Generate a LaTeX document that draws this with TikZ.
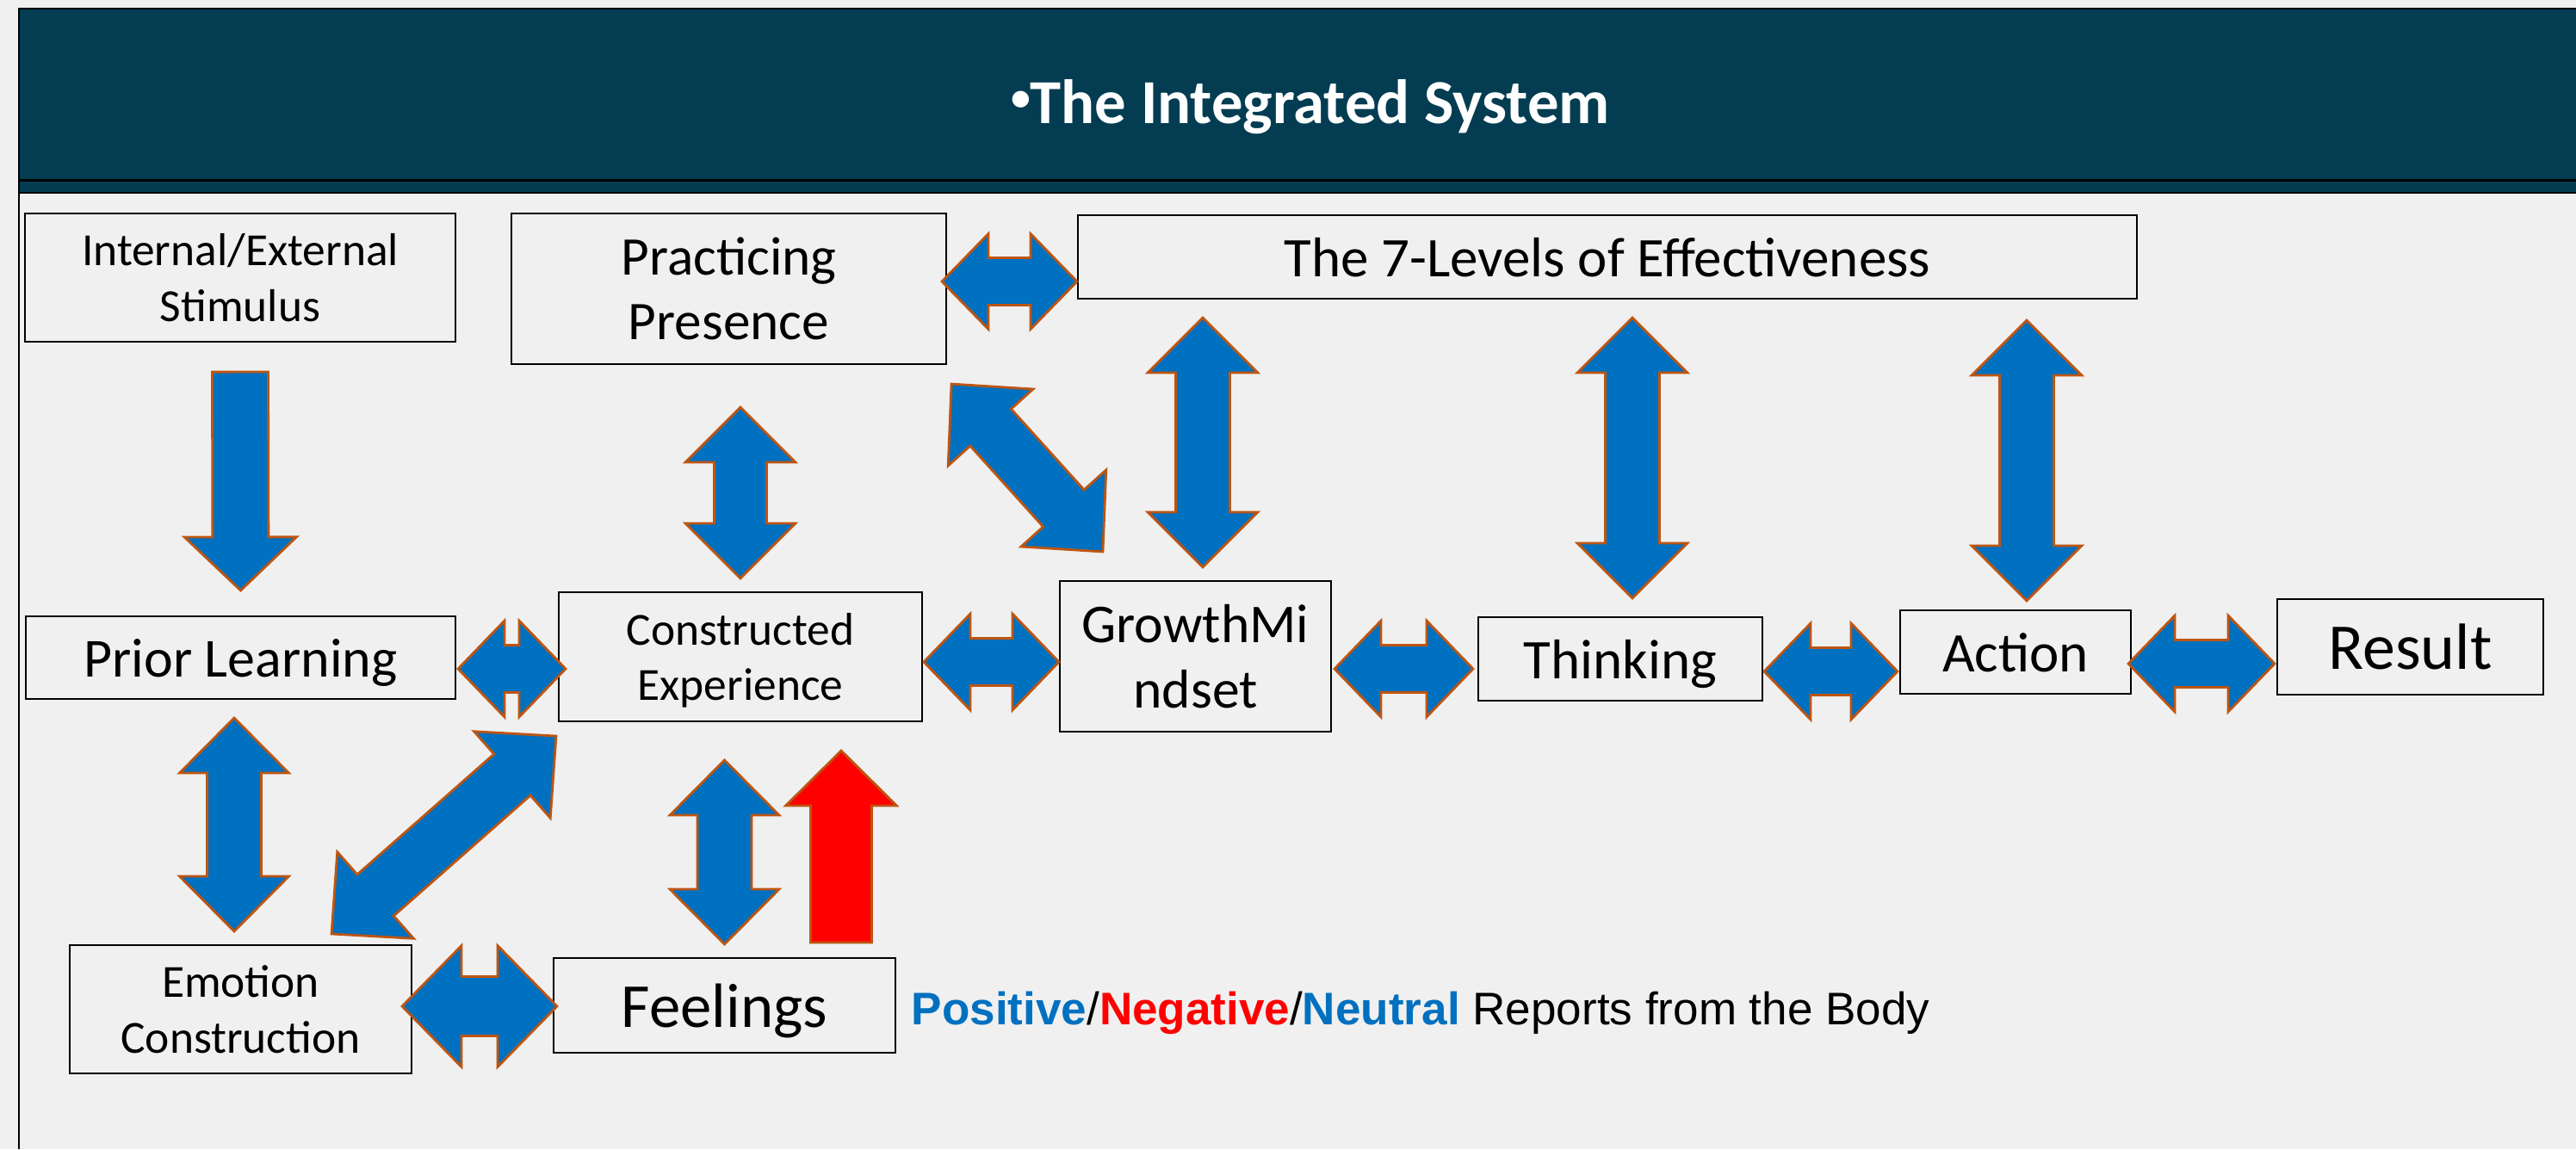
\documentclass[tikz,border=0pt]{standalone}
\usepackage{fontspec}
\setmainfont{Carlito}
\newfontfamily\legendfont{Liberation Sans}
\usetikzlibrary{calc}

\definecolor{bg}{RGB}{240,240,240}
\definecolor{banner}{RGB}{4,61,82}
\definecolor{arrblue}{RGB}{0,112,192}
\definecolor{arrline}{RGB}{190,85,17}
\definecolor{negred}{RGB}{255,0,0}

\tikzset{
  shaft width/.store in=\arrShaft,
  head width/.store in=\arrHead,
  head length/.store in=\arrLen,
  shaft width=0.63cm, head width=1.28cm, head length=0.64cm,
  block/.style={draw=arrline, fill=arrblue, line width=0.8pt, line join=miter},
  % block arrow with a head at both ends
  twoway/.style={block, to path={
      (\tikztostart) coordinate (bs) (\tikztotarget) coordinate (bt)
      (bs) -- ($(bs)!\arrLen!(bt)!0.5*\arrHead!90:(bt)$)
      -- ($(bs)!\arrLen!(bt)!0.5*\arrShaft!90:(bt)$)
      -- ($(bt)!\arrLen!(bs)!0.5*\arrShaft!-90:(bs)$)
      -- ($(bt)!\arrLen!(bs)!0.5*\arrHead!-90:(bs)$)
      -- (bt)
      -- ($(bt)!\arrLen!(bs)!0.5*\arrHead!90:(bs)$)
      -- ($(bt)!\arrLen!(bs)!0.5*\arrShaft!90:(bs)$)
      -- ($(bs)!\arrLen!(bt)!0.5*\arrShaft!-90:(bt)$)
      -- ($(bs)!\arrLen!(bt)!0.5*\arrHead!-90:(bt)$)
      -- cycle}},
  % block arrow with a head at the target only
  oneway/.style={block, to path={
      (\tikztostart) coordinate (bs) (\tikztotarget) coordinate (bt)
      ($(bs)!0.5*\arrShaft!90:(bt)$)
      -- ($(bt)!\arrLen!(bs)!0.5*\arrShaft!-90:(bs)$)
      -- ($(bt)!\arrLen!(bs)!0.5*\arrHead!-90:(bs)$)
      -- (bt)
      -- ($(bt)!\arrLen!(bs)!0.5*\arrHead!90:(bs)$)
      -- ($(bt)!\arrLen!(bs)!0.5*\arrShaft!90:(bs)$)
      -- ($(bs)!0.5*\arrShaft!-90:(bt)$)
      -- cycle}}
}

\begin{document}
\begin{tikzpicture}[
    box/.style={rectangle, draw=black, line width=0.6pt, fill=bg,
                align=center, inner sep=2pt, text depth=0pt},
    small/.style={font=\fontsize{15.2}{18.4}\selectfont},
    mid/.style={font=\fontsize{18.5}{21.5}\selectfont}
]
  \useasboundingbox (0,0) rectangle (29.92,-13.35);
  \fill[bg] (0,0) rectangle (29.92,-13.35);

  % Title banner and frame
  \draw[fill=banner, line width=0.6pt] (0.22,-0.10) rectangle (30.2,-2.24);
  \draw[line width=0.6pt] (0.22,-2.095) -- (30.2,-2.095);
  \draw[line width=0.6pt] (0.22,-2.24) -- (0.22,-13.35);
  \node[text=white, anchor=base, font=\bfseries\fontsize{20.7}{24}\selectfont]
       (title) at (15.22,-1.43)
       {\raisebox{0.2em}{\fontsize{13}{14}\selectfont •}The Integrated System};

  % Top row
  \node[box, small, minimum width=5cm, minimum height=1.49cm] (stim)
       at (2.79,-3.225) {Internal/External\\Stimulus};
  \node[box, font=\fontsize{18}{21.3}\selectfont, minimum width=5.05cm,
        minimum height=1.75cm] (pres) at (8.465,-3.355) {Practicing\\Presence};
  \node[box, mid, minimum width=12.3cm, minimum height=0.97cm] (levels)
       at (18.67,-2.985) {The 7-Levels of Effectiveness};

  % Middle row
  \node[box, font=\fontsize{18.2}{20}\selectfont, minimum width=4.99cm,
        minimum height=0.96cm] (prior) at (2.795,-7.64) {Prior Learning};
  \node[box, small, minimum width=4.22cm, minimum height=1.5cm] (cexp)
       at (8.6,-7.63) {Constructed\\Experience};
  \node[box, font=\fontsize{18.1}{21.6}\selectfont, minimum width=3.15cm,
        minimum height=1.75cm] (growth) at (13.885,-7.625) {GrowthMi\\ndset};
  \node[box, mid, minimum width=3.3cm, minimum height=0.97cm] (think)
       at (18.82,-7.655) {Thinking};
  \node[box, mid, minimum width=2.68cm, minimum height=0.97cm] (action)
       at (23.41,-7.575) {Action};
  \node[box, font=\fontsize{21.6}{24}\selectfont, minimum width=3.09cm,
        minimum height=1.11cm] (result) at (27.995,-7.515) {Result};

  % Bottom row
  \node[box, small, minimum width=3.97cm,
        minimum height=1.49cm] (emo) at (2.795,-11.725) {Emotion\\Construction};
  \node[box, font=\fontsize{20.7}{24}\selectfont, minimum width=3.97cm,
        minimum height=1.1cm] (feel) at (8.415,-11.68) {Feelings};
  \node[anchor=base west, inner sep=0pt,
        font=\legendfont\fontsize{15.1}{18}\selectfont] (report)
       at ($(feel.east)+(0.17,-0.22)$)
       {\textcolor{arrblue}{\bfseries Positive}/\textcolor{negred}{\bfseries
        Negative}/\textcolor{arrblue}{\bfseries Neutral} Reports from the Body};

  % Arrows out of the top row
  \draw[oneway, shaft width=0.65cm, head width=1.3cm, head length=0.62cm]
    ($(stim.south)+(0,-0.34)$) to ($(prior.north)+(0,0.29)$);
  \draw[twoway, shaft width=0.61cm]
    ($(cexp.north |- pres.south)+(0,-0.49)$) to ($(cexp.north)+(0,0.15)$);
  \draw[twoway, shaft width=0.55cm, head width=1.11cm, head length=0.54cm]
    ($(pres.east)+(-0.06,0.085)$) to ($(levels.west)+(0,-0.285)$);
  \draw[twoway, shaft width=0.64cm, head width=1.33cm, head length=0.68cm]
    ($(pres.south east)+(0.05,-0.22)$) to ($(growth.north west)+(0.51,0.33)$);
  \foreach \n/\dx/\dt/\db in {growth/0.085/0.21/0.15, think/0.14/0.21/0.21,
                              action/0.13/0.24/0.10}{
    \draw[twoway]
      ($(\n.north |- levels.south)+(\dx,-\dt)$) to ($(\n.north)+(\dx,\db)$);
  }

  % Arrows along the middle row
  \foreach \a/\b/\sa/\sb in {prior/cexp/{0.02,-0.13}/{0.09,-0.14},
                             cexp/growth/{0.01,-0.06}/{0,-0.065},
                             growth/think/{0.03,-0.145}/{-0.05,-0.115},
                             think/action/{0.01,-0.145}/{-0.02,-0.225},
                             action/result/{-0.04,-0.135}/{-0.02,-0.195}}{
    \draw[twoway, shaft width=0.55cm, head width=1.12cm, head length=0.54cm]
      ($(\a.east)+(\sa)$) to ($(\b.west)+(\sb)$);
  }

  % Arrows into the bottom row
  \draw[twoway, head width=1.27cm]
    ($(prior.south)+(-0.075,-0.21)$) to ($(emo.north)+(-0.075,0.15)$);
  \draw[twoway, shaft width=0.64cm, head width=1.34cm, head length=0.68cm]
    ($(cexp.south west)+(-0.02,-0.16)$) to ($(emo.north east)+(-0.94,0.12)$);
  \draw[twoway, shaft width=0.69cm, head width=1.41cm, head length=0.69cm]
    ($(emo.east)+(-0.12,0.035)$) to ($(feel.west)+(0.05,-0.01)$);
  \draw[twoway, head width=1.27cm]
    ($(feel.north |- cexp.south)+(0,-0.44)$) to ($(feel.north)+(0,0.15)$);
  \draw[oneway, fill=negred, shaft width=0.71cm, head width=1.29cm]
    ($(feel.north east)+(-0.64,0.17)$) to ($(cexp.south east)+(-0.95,-0.33)$);
\end{tikzpicture}
\end{document}
